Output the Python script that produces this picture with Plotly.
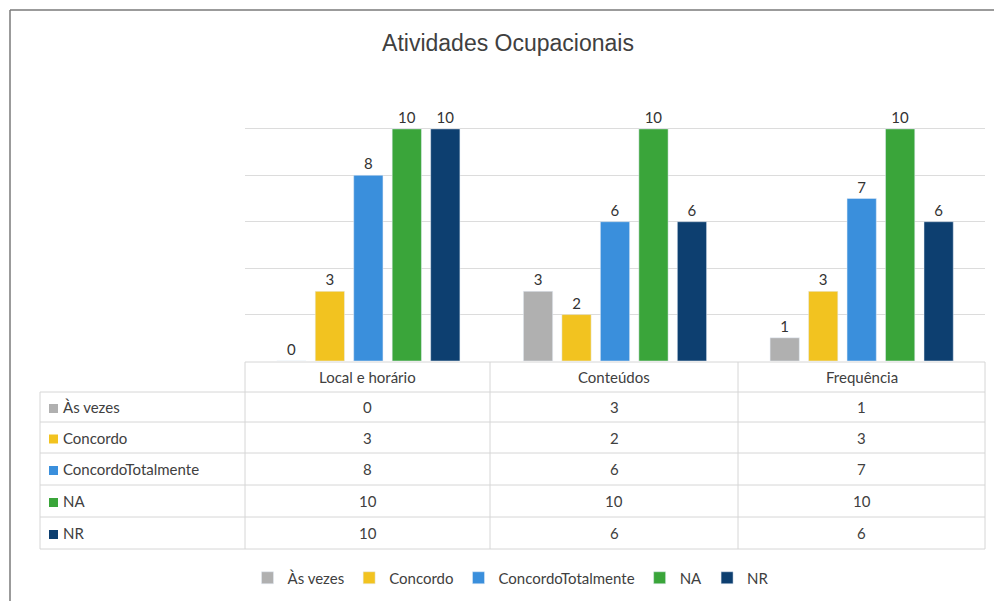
import plotly.graph_objects as go

W, H = 994, 601
categories = ["Local e horário", "Conteúdos", "Frequência"]
series = ["Às vezes", "Concordo", "ConcordoTotalmente", "NA", "NR"]
as_vezes = [0, 3, 1]
concordo = [3, 2, 3]
concordo_totalmente = [8, 6, 7]
na = [10, 10, 10]
nr = [10, 6, 6]
values = [as_vezes, concordo, concordo_totalmente, na, nr]
colors = ["#b0b0b0", "#f2c320", "#3a8fdc", "#3aa53a", "#0d3f70"]
title = "Atividades Ocupacionais"

def px(x):
    return x / W

def py(y):
    return 1 - y / H

FONT = "Lato, Open Sans, sans-serif"
fig = go.Figure()
for name, vals, col in zip(series, values, colors):
    fig.add_trace(go.Bar(
        x=categories, y=vals, name=name, marker_color=col,
        text=[str(v) for v in vals], textposition="outside",
        textfont=dict(family=FONT, size=15, color="#333333"),
        cliponaxis=False,
    ))

x0, x1 = 245, 985
plot_top, plot_bot = 82, 361
fig.update_layout(
    width=W, height=H,
    margin=dict(l=0, r=0, t=0, b=0),
    paper_bgcolor="white", plot_bgcolor="white",
    barmode="group", bargap=0.22, bargroupgap=0.24,
    title=dict(text=title, x=px(508), xanchor="center", y=py(43), yanchor="middle",
               font=dict(family="Liberation Sans, Arial, sans-serif", size=23, color="#404040")),
    xaxis=dict(domain=[px(x0), px(x1)], showticklabels=False, showline=False, showgrid=False, zeroline=False),
    yaxis=dict(domain=[py(plot_bot), py(plot_top)], range=[0, 12.02], dtick=2, showticklabels=False,
               showgrid=True, gridcolor="#dcdcdc", gridwidth=1, zeroline=False, showline=False),
    showlegend=True,
    legend=dict(orientation="h", x=px(511), xanchor="center", y=py(578), yanchor="middle",
                font=dict(family=FONT, size=15, color="#404040"), itemwidth=30, traceorder="normal"),
    font=dict(family=FONT),
)

# Data table under the chart
line = dict(color="#d6d6d6", width=1)
col_edges = [x0, 490, 738, x1]
row_edges = [362, 392, 422, 453, 485, 517, 549]
label_left = 40
shapes = []
shapes.append(dict(type="line", xref="paper", yref="paper", x0=px(x0), x1=px(x1), y0=py(row_edges[0]), y1=py(row_edges[0]), line=line))
for ry in row_edges[1:]:
    shapes.append(dict(type="line", xref="paper", yref="paper", x0=px(label_left), x1=px(x1), y0=py(ry), y1=py(ry), line=line))
for cx in col_edges:
    shapes.append(dict(type="line", xref="paper", yref="paper", x0=px(cx), x1=px(cx), y0=py(row_edges[0]), y1=py(row_edges[-1]), line=line))
shapes.append(dict(type="line", xref="paper", yref="paper", x0=px(label_left), x1=px(label_left), y0=py(row_edges[1]), y1=py(row_edges[-1]), line=line))
frame = dict(color="#7a7a7a", width=1.5)
shapes.append(dict(type="line", xref="paper", yref="paper", x0=px(10), x1=px(10), y0=py(10), y1=py(601), line=frame))
shapes.append(dict(type="line", xref="paper", yref="paper", x0=px(10), x1=px(994), y0=py(10), y1=py(10), line=frame))

annotations = []
tfont = dict(family=FONT, size=15, color="#404040")
for i, c in enumerate(categories):
    cx = (col_edges[i] + col_edges[i + 1]) / 2
    cy = (row_edges[0] + row_edges[1]) / 2
    annotations.append(dict(text=c, x=px(cx), y=py(cy), xref="paper", yref="paper", showarrow=False, font=tfont, xanchor="center", yanchor="middle"))
for r, (name, vals, col) in enumerate(zip(series, values, colors)):
    cy = (row_edges[r + 1] + row_edges[r + 2]) / 2
    shapes.append(dict(type="rect", xref="paper", yref="paper", x0=px(49), x1=px(58), y0=py(cy - 3), y1=py(cy + 6), fillcolor=col, line=dict(width=0)))
    annotations.append(dict(text=name, x=px(61), y=py(cy), xref="paper", yref="paper", showarrow=False, font=tfont, xanchor="left", yanchor="middle"))
    for i, v in enumerate(vals):
        cx = (col_edges[i] + col_edges[i + 1]) / 2
        annotations.append(dict(text=str(v), x=px(cx), y=py(cy), xref="paper", yref="paper", showarrow=False, font=tfont, xanchor="center", yanchor="middle"))

fig.update_layout(shapes=shapes, annotations=annotations)
fig.write_html("out.html", config={"displayModeBar": False},
               post_script="document.body.style.margin='0';document.body.style.overflow='hidden';")
